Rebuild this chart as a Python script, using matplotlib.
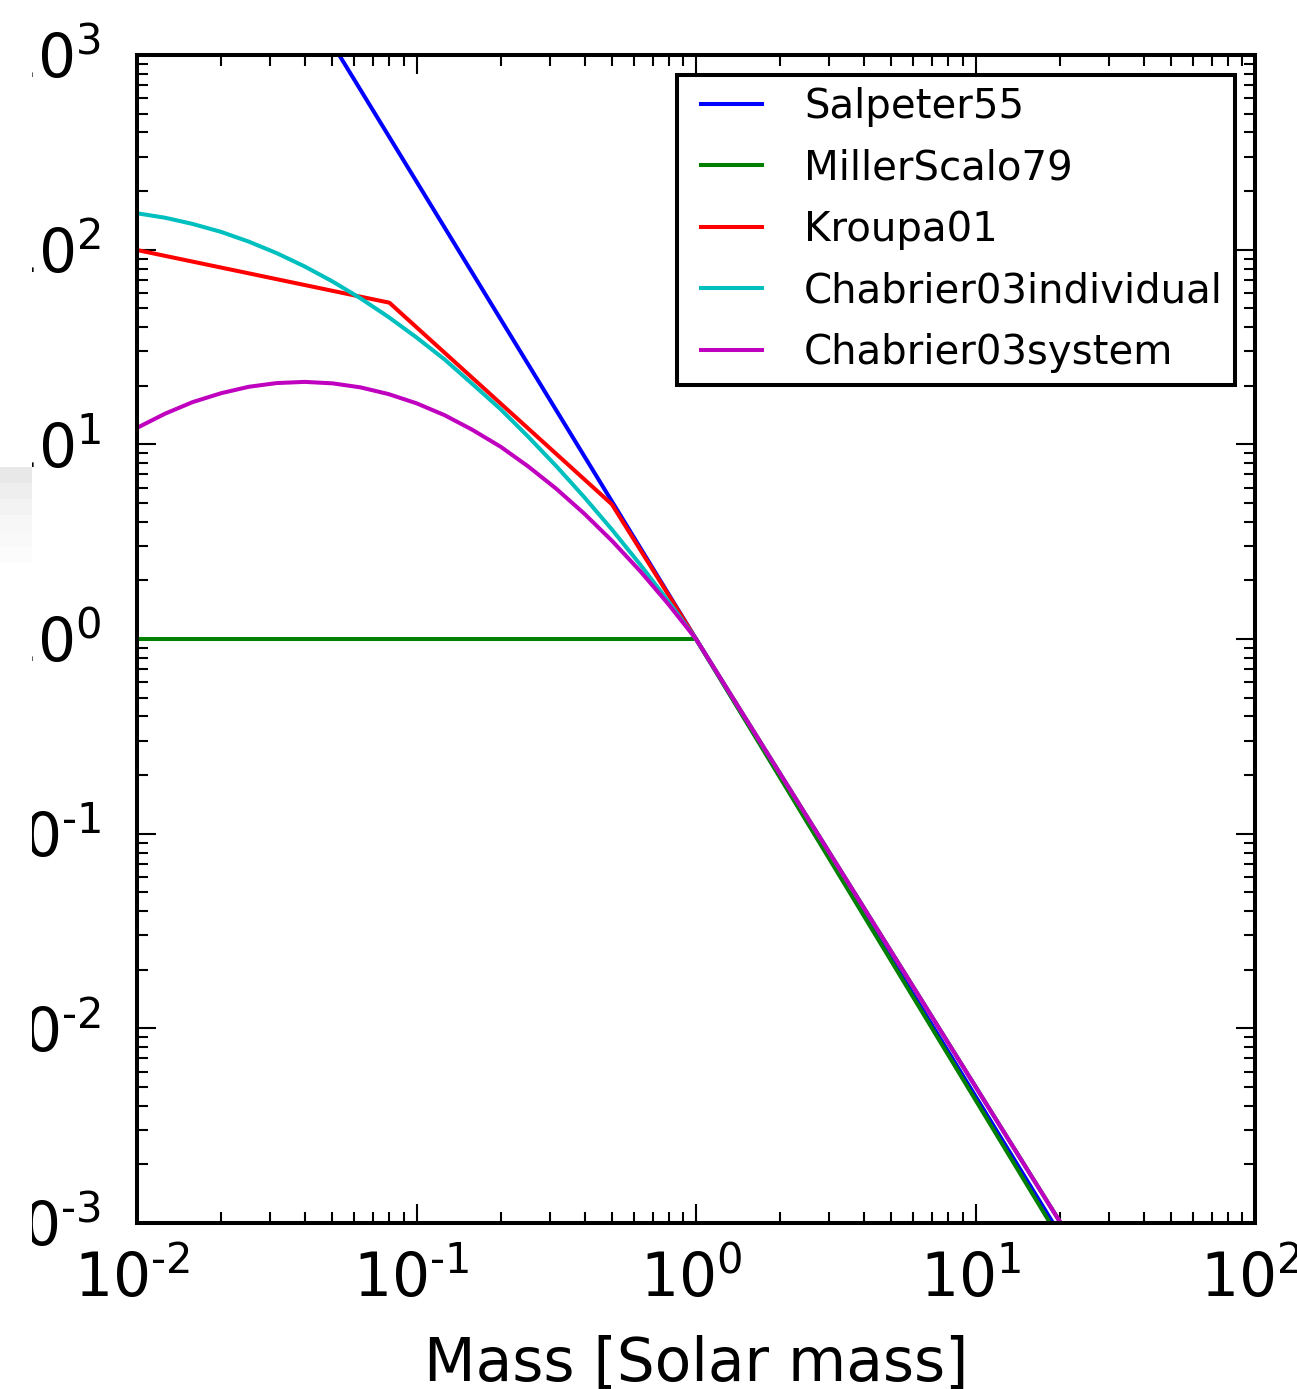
import numpy as np
import matplotlib
matplotlib.use('Agg')
import matplotlib.pyplot as plt
from matplotlib.ticker import FuncFormatter
from matplotlib.transforms import ScaledTranslation

# IMF curves (normalised to 1 at 1 Msun)
salpeter_m = [0.01, 1.0, 20.0]
salpeter_y = [50100.0, 1.0, 8.8e-4]

millerscalo_m = [0.01, 1.0, 20.0]
millerscalo_y = [1.0, 1.0, 8.3e-4]

kroupa_m = [0.01, 0.08, 0.5, 1.0, 20.0]
kroupa_y = [99.6, 53.4, 4.92, 1.0, 1.02e-3]

chab_m = [0.01, 0.0126, 0.0158, 0.02, 0.0251, 0.0316, 0.0398, 0.0501, 0.0631,
          0.0794, 0.1, 0.126, 0.158, 0.2, 0.251, 0.316, 0.398, 0.501, 0.631,
          0.794, 1.0, 20.0]
chab_ind_y = [153.8, 145.9, 135.6, 123.4, 110.0, 96.0, 82.0, 68.6, 56.2,
              45.1, 35.4, 27.3, 20.5, 15.15, 10.94, 7.74, 5.36, 3.64, 2.415,
              1.571, 1.0, 1.02e-3]
chab_sys_y = [12.15, 14.37, 16.47, 18.31, 19.75, 20.64, 20.93, 20.57, 19.61,
              18.12, 16.25, 14.12, 11.90, 9.72, 7.70, 5.92, 4.41, 3.19, 2.234,
              1.518, 1.0, 1.02e-3]

labels = ['Salpeter55', 'MillerScalo79', 'Kroupa01',
          'Chabrier03individual', 'Chabrier03system']
colors = ['b', 'g', 'r', 'c', 'm']


def log_fmt(v, pos):
    e = int(round(np.log10(v)))
    if e < 0:
        return r'$\mathdefault{10^{\text{-}%d}}$' % (-e)
    return r'$\mathdefault{10^{%d}}$' % e


plt.rcParams['xtick.direction'] = 'in'
plt.rcParams['ytick.direction'] = 'in'
plt.rcParams['xtick.top'] = True
plt.rcParams['ytick.right'] = True

fig = plt.figure(figsize=(12.97, 13.89), dpi=100)
ax = fig.add_axes([137 / 1297, 166 / 1389, 1118 / 1297, 1168 / 1389])

series = [(salpeter_m, salpeter_y), (millerscalo_m, millerscalo_y),
          (kroupa_m, kroupa_y), (chab_m, chab_ind_y), (chab_m, chab_sys_y)]
for (m, y), lab, c in zip(series, labels, colors):
    ax.plot(m, y, color=c, lw=2.9, label=lab)

ax.set_xscale('log')
ax.set_yscale('log')
ax.set_xlim(1e-2, 1e2)
ax.set_ylim(1e-3, 1e3)
ax.xaxis.set_major_formatter(FuncFormatter(log_fmt))
ax.yaxis.set_major_formatter(FuncFormatter(log_fmt))

for s in ax.spines.values():
    s.set_linewidth(2.9)
ax.tick_params(which='major', length=14, width=1.5, labelsize=43)
ax.tick_params(which='minor', length=8, width=1.5)
ax.tick_params(axis='x', which='major', pad=20)
ax.tick_params(axis='y', which='major', pad=26)

# x tick labels sit a few pixels left of their ticks in the reference
shift = ScaledTranslation(-5 / 100, 0, fig.dpi_scale_trans)
for lab in ax.get_xticklabels():
    lab.set_transform(lab.get_transform() + shift)

ax.set_xlabel('Mass [Solar mass]', fontsize=43, labelpad=17)

leg = ax.legend(loc='upper right', fontsize=29, fancybox=False, framealpha=1,
                edgecolor='k', numpoints=2, borderpad=0.3, handlelength=2.1,
                handletextpad=0.75, labelspacing=0.53, borderaxespad=0.5)
leg.get_frame().set_linewidth(2.9)

# the screenshot's left strip covers the y tick labels, with a faint grey patch
cover = fig.add_axes([0, 0, 32 / 1297, 1])
cover.set_facecolor('white')
cover.set_xticks([])
cover.set_yticks([])
for s in cover.spines.values():
    s.set_visible(False)
cover.set_zorder(10)
gax = fig.add_axes([0, (1389 - 563) / 1389, 32 / 1297, 96 / 1389])
gax.imshow(np.array([[0.91], [0.93], [0.95], [0.965], [0.975], [0.985]]),
           cmap='gray', vmin=0, vmax=1, aspect='auto')
gax.axis('off')
gax.set_zorder(11)

fig.savefig('out.png', dpi=100, facecolor='white')
